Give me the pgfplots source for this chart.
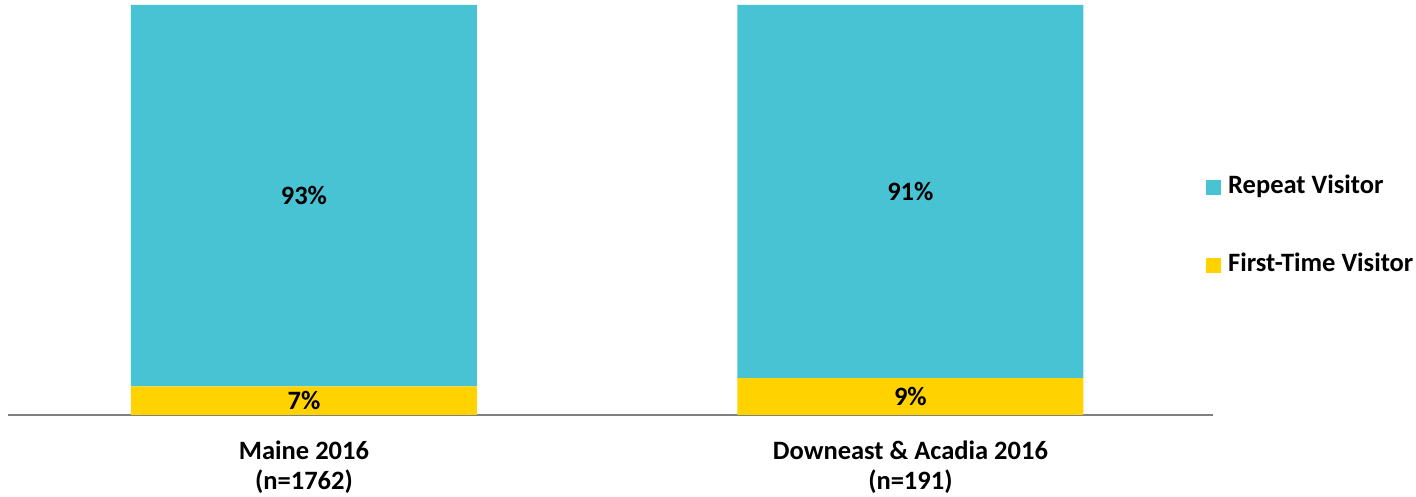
\documentclass[border=0pt]{standalone}
\usepackage{fontspec}
\setmainfont{Carlito}
\usepackage{pgfplots}
\usepackage{pgfplotstable}
\pgfplotsset{compat=1.18}
\definecolor{repeatc}{RGB}{71,195,211}
\definecolor{firstc}{RGB}{255,210,0}
\definecolor{axisgray}{RGB}{128,128,128}
\newcommand{\lab}{\bfseries\fontsize{13.3}{15}\selectfont}

\pgfplotstableread{
x first repeat
0 7 93
1 9 91
}\data

\begin{document}
\begin{tikzpicture}
\useasboundingbox (0,0) rectangle (708bp,248.5bp);
\begin{axis}[
  at={(4bp,41bp)}, anchor=south west,
  scale only axis, width=602.5bp, height=205bp,
  ybar stacked, bar width=0.5705,
  xmin=-0.488, xmax=1.499, ymin=0, ymax=100,
  axis x line*=bottom, axis y line=none,
  x axis line style={draw=axisgray, line width=0.75bp},
  xtick={0,1},
  xticklabels={{Maine 2016\\(n=1762)},{Downeast \& Acadia 2016\\(n=191)}},
  xticklabel style={align=center, font=\lab, yshift=-9.5bp},
  major tick length=0pt,
  /pgf/number format/assume math mode=true,
  nodes near coords={\pgfmathprintnumber{\pgfplotspointmeta}\%},
  every node near coord/.append style={font=\lab, anchor=center},
  point meta=explicit,
  reverse legend,
  legend style={at={(axis description cs:0.994,0.4598)}, anchor=west, draw=none, fill=none,
    inner sep=0pt, row sep=27bp, font=\lab,
    nodes={inner sep=0pt, text height=9bp, text depth=3bp}},
  legend cell align=left,
]
\addplot[fill=firstc, draw=none,
  legend image code/.code={\fill[firstc] (0bp,-3.75bp) rectangle (7.5bp,3.75bp);}]
  table[x=x, y=first, meta=first] {\data};
\addlegendentry{\hspace{3.5bp}First-Time Visitor}
\addplot[fill=repeatc, draw=none,
  legend image code/.code={\fill[repeatc] (0bp,-3.75bp) rectangle (7.5bp,3.75bp);}]
  table[x=x, y=repeat, meta=repeat] {\data};
\addlegendentry{\hspace{3.5bp}Repeat Visitor}
\end{axis}
\end{tikzpicture}
\end{document}
